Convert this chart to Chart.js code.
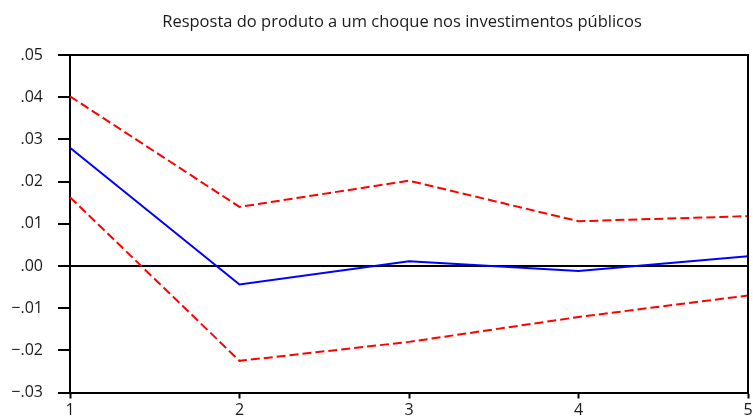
<!DOCTYPE html>
<html>
<head>
<meta charset="utf-8">
<script src="https://cdn.jsdelivr.net/npm/chart.js@4"></script>
<style>
  html, body { margin: 0; padding: 0; background: #fff; }
  #wrap { width: 753px; height: 420px; }
</style>
</head>
<body>
<div id="wrap"><canvas id="chart" width="753" height="420"></canvas></div>
<script>
const title = 'Resposta do produto a um choque nos investimentos públicos';
const periods = ['1', '2', '3', '4', '5'];
const response = [0.0280, -0.0044, 0.0011, -0.0012, 0.0023];
const upperBand = [0.0402, 0.0140, 0.0202, 0.0106, 0.0118];
const lowerBand = [0.0163, -0.0225, -0.0180, -0.0121, -0.0070];
const yTickValues = [0.05, 0.04, 0.03, 0.02, 0.01, 0, -0.01, -0.02, -0.03];
const yTickLabels = ['.05', '.04', '.03', '.02', '.01', '.00', '\u2212.01', '\u2212.02', '\u2212.03'];

const font = "'Open Sans', 'Noto Sans', sans-serif";

// box around the plot (top and right edges) + title over it
const frame = {
  id: 'frame',
  afterDraw(chart) {
    const { ctx, chartArea: a } = chart;
    ctx.save();
    ctx.strokeStyle = '#000';
    ctx.lineWidth = 2;
    ctx.beginPath();
    ctx.moveTo(a.left, a.top);
    ctx.lineTo(a.right, a.top);
    ctx.lineTo(a.right, a.bottom);
    ctx.stroke();

    ctx.fillStyle = '#1a1a1a';
    ctx.font = '16.5px ' + font;
    ctx.textAlign = 'center';
    ctx.textBaseline = 'alphabetic';
    ctx.fillText(title, (a.left + a.right) / 2 - 7, 27);
    ctx.restore();
  }
};

const ctx = document.getElementById('chart').getContext('2d');
new Chart(ctx, {
  type: 'line',
  data: {
    labels: periods,
    datasets: [
      { data: upperBand, borderColor: '#ff0000', borderWidth: 2, borderDash: [9, 4], pointRadius: 0, tension: 0 },
      { data: lowerBand, borderColor: '#ff0000', borderWidth: 2, borderDash: [9, 4], pointRadius: 0, tension: 0 },
      { data: response, borderColor: '#0000ff', borderWidth: 2, pointRadius: 0, tension: 0 }
    ]
  },
  options: {
    responsive: false,
    animation: false,
    layout: { padding: { left: 0, right: 5, top: 55, bottom: 0 } },
    plugins: {
      legend: { display: false },
      tooltip: { enabled: false },
      title: { display: false }
    },
    scales: {
      x: {
        offset: false,
        border: { display: true, color: '#000', width: 2 },
        grid: { display: true, drawOnChartArea: false, drawTicks: true, tickLength: 6, tickColor: '#000', tickWidth: 2, color: '#000' },
        ticks: { color: '#1a1a1a', font: { family: font, size: 16 }, padding: 2, maxRotation: 0, autoSkip: false },
        afterFit(scale) {
          scale.paddingLeft = 0;
          scale.paddingRight = 0;
          scale.height = 27.5;
        }
      },
      y: {
        min: -0.03,
        max: 0.05,
        border: { display: true, color: '#000', width: 2 },
        grid: {
          drawOnChartArea: true,
          drawTicks: true,
          tickLength: 12,
          tickColor: '#000',
          tickWidth: 2,
          lineWidth: 2,
          color: c => (c.tick && Math.abs(c.tick.value) < 1e-9 ? '#000' : 'rgba(0,0,0,0)')
        },
        ticks: {
          stepSize: 0.01,
          color: '#1a1a1a',
          font: { family: font, size: 16 },
          padding: 15,
          callback: v => {
            const i = yTickValues.findIndex(t => Math.abs(t - v) < 1e-9);
            return i >= 0 ? yTickLabels[i] : '';
          }
        },
        afterFit(scale) {
          scale.width = 70;
          scale.paddingTop = 0;
          scale.paddingBottom = 0;
        }
      }
    }
  },
  plugins: [frame]
});
</script>
</body>
</html>
